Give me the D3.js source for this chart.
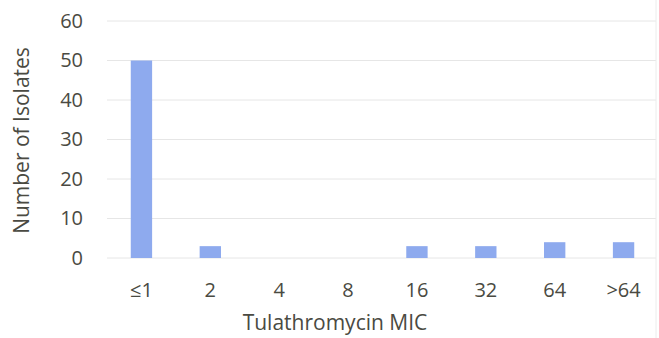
<!DOCTYPE html>
<html>
<head>
<meta charset="utf-8">
<script src="https://cdn.jsdelivr.net/npm/d3@7"></script>
<style>
  body { margin: 0; background: #fff; }
  text { font-family: "Open Sans", "Liberation Sans", sans-serif; }
</style>
</head>
<body>
<div id="chart"></div>
<script>
// data
var categories = ["≤1", "2", "4", "8", "16", "32", "64", ">64"];
var isolates = [50, 3, 0, 0, 3, 3, 4, 4];
var yTicks = [0, 10, 20, 30, 40, 50, 60];

var W = 659, H = 338;
var margin = { top: 21, right: 1, bottom: 80, left: 107 },
    width = W - margin.left - margin.right,
    height = H - margin.top - margin.bottom;

var svg = d3.select("#chart")
    .append("svg")
    .attr("width", W)
    .attr("height", H)
    .append("g")
    .attr("transform", "translate(" + margin.left + "," + margin.top + ")");

var x = d3.scaleBand()
    .domain(categories)
    .range([0, width])
    .paddingInner(0.69)
    .paddingOuter(0.345);

var y = d3.scaleLinear()
    .domain([0, 60])
    .range([height, 0]);

// gridlines
svg.append("g")
    .selectAll("line")
    .data(yTicks)
    .enter()
    .append("line")
    .attr("x1", 0)
    .attr("x2", width - 2)
    .attr("y1", function (d) { return y(d); })
    .attr("y2", function (d) { return y(d); })
    .attr("stroke", "#e6e6e6")
    .attr("stroke-width", 1);

// y axis labels
var yAxis = svg.append("g")
    .attr("transform", "translate(-24,0)")
    .call(d3.axisLeft(y).tickValues(yTicks).tickSize(0).tickPadding(0));
yAxis.select(".domain").remove();
yAxis.selectAll("text")
    .attr("font-size", 20)
    .attr("fill", "#4a4a42")
    .style("font-family", "'Open Sans', sans-serif");

// x axis labels
var xAxis = svg.append("g")
    .attr("transform", "translate(0," + (height + 25) + ")")
    .call(d3.axisBottom(x).tickSize(0).tickPadding(0));
xAxis.select(".domain").remove();
xAxis.selectAll("text")
    .attr("font-size", 20)
    .attr("fill", "#4a4a42")
    .style("font-family", "'Open Sans', sans-serif");

// bars
svg.selectAll("rect.bar")
    .data(isolates)
    .enter()
    .append("rect")
    .attr("class", "bar")
    .attr("x", function (d, i) { return x(categories[i]); })
    .attr("y", function (d) { return y(d); })
    .attr("width", x.bandwidth())
    .attr("height", function (d) { return height - y(d); })
    .attr("fill", "#8eaaee");

// axis titles
svg.append("text")
    .attr("x", 335 - margin.left)
    .attr("y", height + 72)
    .attr("text-anchor", "middle")
    .attr("font-size", 21)
    .attr("fill", "#4a4a42")
    .text("Tulathromycin MIC");

svg.append("text")
    .attr("transform", "translate(" + (-78) + "," + (height / 2 + 1) + ") rotate(-90)")
    .attr("text-anchor", "middle")
    .attr("font-size", 21)
    .attr("fill", "#4a4a42")
    .text("Number of Isolates");

// faint right edge line
d3.select("svg").append("line")
    .attr("x1", W - 3).attr("x2", W - 3)
    .attr("y1", 0).attr("y2", H)
    .attr("stroke", "#ececec");
</script>
</body>
</html>
